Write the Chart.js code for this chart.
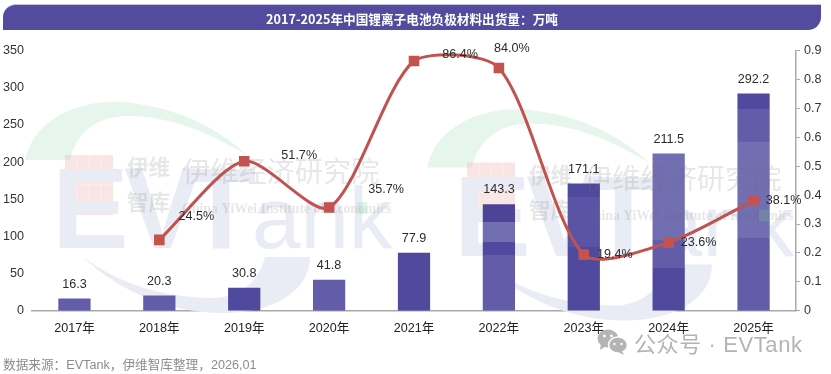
<!DOCTYPE html>
<html lang="zh">
<head>
<meta charset="utf-8">
<title>2017-2025年中国锂离子电池负极材料出货量</title>
<script src="https://cdn.jsdelivr.net/npm/chart.js@4"></script>
<style>
  html, body { margin: 0; padding: 0; background: #fff; overflow: hidden; }
  body { width: 831px; height: 374px; position: relative; font-family: "Liberation Sans", "Noto Sans CJK SC", sans-serif; }
  #chart { position: absolute; left: 0; top: 0; }
  .title {
    position: absolute; left: 3px; top: 4px; width: 818px; height: 26px; line-height: 27px;
    background: #534b9e; color: #fff; text-align: center; font: 700 12.65px/27px "Noto Sans CJK SC", sans-serif;
    border-radius: 13px 0 13px 0; border-top: 1px solid #c5c1e2; box-sizing: border-box;
  }
  .source { position: absolute; left: 3px; top: 357px; font-size: 12.65px; line-height: 16px; color: #8c8c8c; }
  .wechat { position: absolute; left: 597px; top: 328px; height: 28px; display: flex; align-items: center; color: #b4b4b4; font-size: 22px; letter-spacing: 0.6px; white-space: nowrap; }
  .wechat svg { margin-right: 6px; }
</style>
</head>
<body>
<canvas id="chart" width="831" height="374"></canvas>
<div class="title">2017-2025年中国锂离子电池负极材料出货量：万吨</div>
<div class="source">数据来源：EVTank，伊维智库整理，2026,01</div>
<div class="wechat">
  <svg width="31" height="26" viewBox="0 0 31 26">
    <ellipse cx="11" cy="9.5" rx="10.5" ry="9" fill="#b4b4b4"/>
    <path d="M4 15 L3 21 L9 17 Z" fill="#b4b4b4"/>
    <ellipse cx="21" cy="16" rx="9.5" ry="8" fill="#b4b4b4" stroke="#fff" stroke-width="1.5"/>
    <path d="M25 22 L27 26 L21 23 Z" fill="#b4b4b4"/>
    <circle cx="7.5" cy="7" r="1.4" fill="#fff"/><circle cx="14.5" cy="7" r="1.4" fill="#fff"/>
    <circle cx="17.5" cy="15" r="1.2" fill="#fff"/><circle cx="24.5" cy="15" r="1.2" fill="#fff"/>
  </svg>
  <span>公众号 · EVTank</span>
</div>

<script>
const years = ['2017年', '2018年', '2019年', '2020年', '2021年', '2022年', '2023年', '2024年', '2025年'];
const shipments = [16.3, 20.3, 30.8, 41.8, 77.9, 143.3, 171.1, 211.5, 292.2];
const growth = [null, 0.245, 0.517, 0.357, 0.864, 0.84, 0.194, 0.236, 0.381];
const growthLabels = ['', '24.5%', '51.7%', '35.7%', '86.4%', '84.0%', '19.4%', '23.6%', '38.1%'];

// where each growth label sits relative to its point
const labelOffsets = [null, [37, -23], [55, -6], [57, -18], [46, -6], [13, -19], [31, 0], [30, 0], [30, 0]];

const DARK = '#504a9f', MID = '#625ca9', LIGHT = '#716eb1';
const FONT = '"Liberation Sans", "Noto Sans CJK SC", sans-serif';

const canvas = document.getElementById('chart');
const ctx = canvas.getContext('2d');

// the watermark shows through the bars as hard horizontal bands
function bands(stops) {
  const g = ctx.createLinearGradient(0, 0, 0, 374);
  stops.forEach(([from, to, color]) => {
    g.addColorStop(from / 374, color);
    g.addColorStop(to / 374, color);
  });
  return g;
}
const barColors = [
  MID, MID, DARK, MID, DARK,
  bands([[0, 222, '#4d4497'], [222, 242, LIGHT], [242, 255, DARK], [255, 374, MID]]),
  bands([[0, 197, DARK], [197, 247, '#5a54a5'], [247, 374, DARK]]),
  bands([[0, 240, LIGHT], [240, 268, MID], [268, 374, DARK]]),
  bands([[0, 109, DARK], [109, 142, MID], [142, 238, LIGHT], [238, 374, MID]])
];

function drawBackMark(c, ox, oy) {
  c.save();
  c.translate(ox, oy);

  // green arc
  c.fillStyle = '#e6f6ec';
  c.beginPath();
  c.moveTo(25, 160);
  c.bezierCurveTo(35, 115, 85, 100, 120, 102);
  c.bezierCurveTo(170, 105, 215, 125, 247, 155);
  c.bezierCurveTo(205, 130, 165, 115, 125, 116);
  c.bezierCurveTo(95, 117, 75, 135, 70, 160);
  c.closePath();
  c.fill();

  // red square
  c.fillStyle = 'rgba(238,170,170,0.3)';
  c.fillRect(65, 155, 48, 60);
  c.strokeStyle = 'rgba(255,255,255,0.3)';
  c.lineWidth = 1;
  [77, 89, 101].forEach(x => { c.beginPath(); c.moveTo(x, 155); c.lineTo(x, 215); c.stroke(); });
  [170, 185, 200].forEach(y => { c.beginPath(); c.moveTo(65, y); c.lineTo(113, y); c.stroke(); });

  // big letters
  c.fillStyle = '#e9ecf4';
  c.textBaseline = 'alphabetic';
  c.textAlign = 'left';
  c.font = 'bold 115px "Liberation Sans"';
  c.fillText('E', 52, 248);
  c.fillText('V', 124, 248);
  c.fillText('T', 186, 248);
  c.font = '87px "Liberation Sans"';
  c.fillText('ank', 252, 248);

  // swoosh under the letters
  c.beginPath();
  c.moveTo(83, 257);
  c.bezierCurveTo(120, 292, 170, 313, 222, 313);
  c.bezierCurveTo(275, 313, 310, 290, 310, 257);
  c.lineTo(265, 257);
  c.bezierCurveTo(258, 285, 235, 299, 210, 298);
  c.bezierCurveTo(165, 297, 120, 285, 83, 257);
  c.closePath();
  c.fill();
  c.restore();
}

function drawFrontMark(c, ox, oy) {
  c.save();
  c.translate(ox, oy);
  c.fillStyle = 'rgba(110,110,115,0.17)';
  c.textBaseline = 'middle';
  c.textAlign = 'left';
  c.font = '700 21.5px "Noto Sans CJK SC"';
  c.fillText('伊维', 127, 167);
  c.fillText('智库', 127, 202);
  c.font = '400 28.2px "Noto Sans CJK SC"';
  c.fillText('伊维经济研究院', 182, 171);
  c.font = 'bold 13.7px "Liberation Serif"';
  c.fillText('China YiWei Institute of Economics', 182, 209);
  c.fillStyle = 'rgba(120,215,150,0.22)';
  c.fillRect(357, 202, 10, 12);
  c.restore();
}

const watermark = {
  id: 'watermark',
  beforeDatasetsDraw(chart) {
    drawBackMark(chart.ctx, 0, 0);
    drawBackMark(chart.ctx, 402, 7.5);
  },
  afterDatasetDraw(chart, args) {
    if (args.index !== 0) return;
    drawFrontMark(chart.ctx, 0, 0);
    drawFrontMark(chart.ctx, 402, 7.5);
  }
};

const valueLabels = {
  id: 'valueLabels',
  afterDatasetsDraw(chart) {
    const c = chart.ctx;
    c.save();
    c.font = '12.6px ' + FONT;
    c.fillStyle = '#2b2b2b';
    c.textAlign = 'center';
    c.textBaseline = 'middle';
    chart.getDatasetMeta(0).data.forEach((bar, i) => {
      c.fillText(shipments[i].toFixed(1), bar.x, bar.y - 14.5);
    });
    chart.getDatasetMeta(1).data.forEach((pt, i) => {
      if (!labelOffsets[i]) return;
      c.fillText(growthLabels[i], pt.x + labelOffsets[i][0], pt.y + labelOffsets[i][1]);
    });
    c.restore();
  }
};

new Chart(ctx, {
  type: 'bar',
  data: {
    labels: years,
    datasets: [
      { label: '出货量', data: shipments, backgroundColor: barColors, barPercentage: 0.38, categoryPercentage: 1, yAxisID: 'y', order: 2 },
      {
        label: '增长率', type: 'line', data: growth, yAxisID: 'y1', order: 1,
        borderColor: '#c0524f', backgroundColor: '#c4534f', borderWidth: 3, tension: 0.26,
        pointStyle: 'rect', pointRadius: 7.5, pointHoverRadius: 7.5, pointBorderWidth: 0
      }
    ]
  },
  plugins: [watermark, valueLabels],
  options: {
    responsive: false,
    animation: false,
    layout: { padding: { top: 50.6, left: 0, right: 0, bottom: 0 } },
    plugins: { legend: { display: false }, title: { display: false }, tooltip: { enabled: false } },
    scales: {
      x: {
        grid: { display: false },
        border: { color: '#a9a9a9', width: 1.5 },
        ticks: { color: '#222', font: { size: 12.6, family: FONT }, padding: 2, maxRotation: 0 },
        afterFit(s) { s.height = 63.3; }
      },
      y: {
        position: 'left', min: 0, max: 350,
        grid: { display: false, drawTicks: false },
        border: { display: false },
        ticks: { stepSize: 50, color: '#333', font: { size: 12.6, family: FONT }, padding: 8 },
        afterFit(s) { s.width = 32; }
      },
      y1: {
        position: 'right', min: 0, max: 0.9,
        grid: { drawOnChartArea: false, color: '#a9a9a9', tickLength: 4 },
        border: { color: '#a9a9a9', width: 1.5 },
        ticks: { stepSize: 0.1, color: '#333', font: { size: 12.6, family: FONT }, padding: 4,
          callback: v => String(Math.round(v * 10) / 10) },
        afterFit(s) { s.width = 35; }
      }
    }
  }
});
</script>
</body>
</html>
